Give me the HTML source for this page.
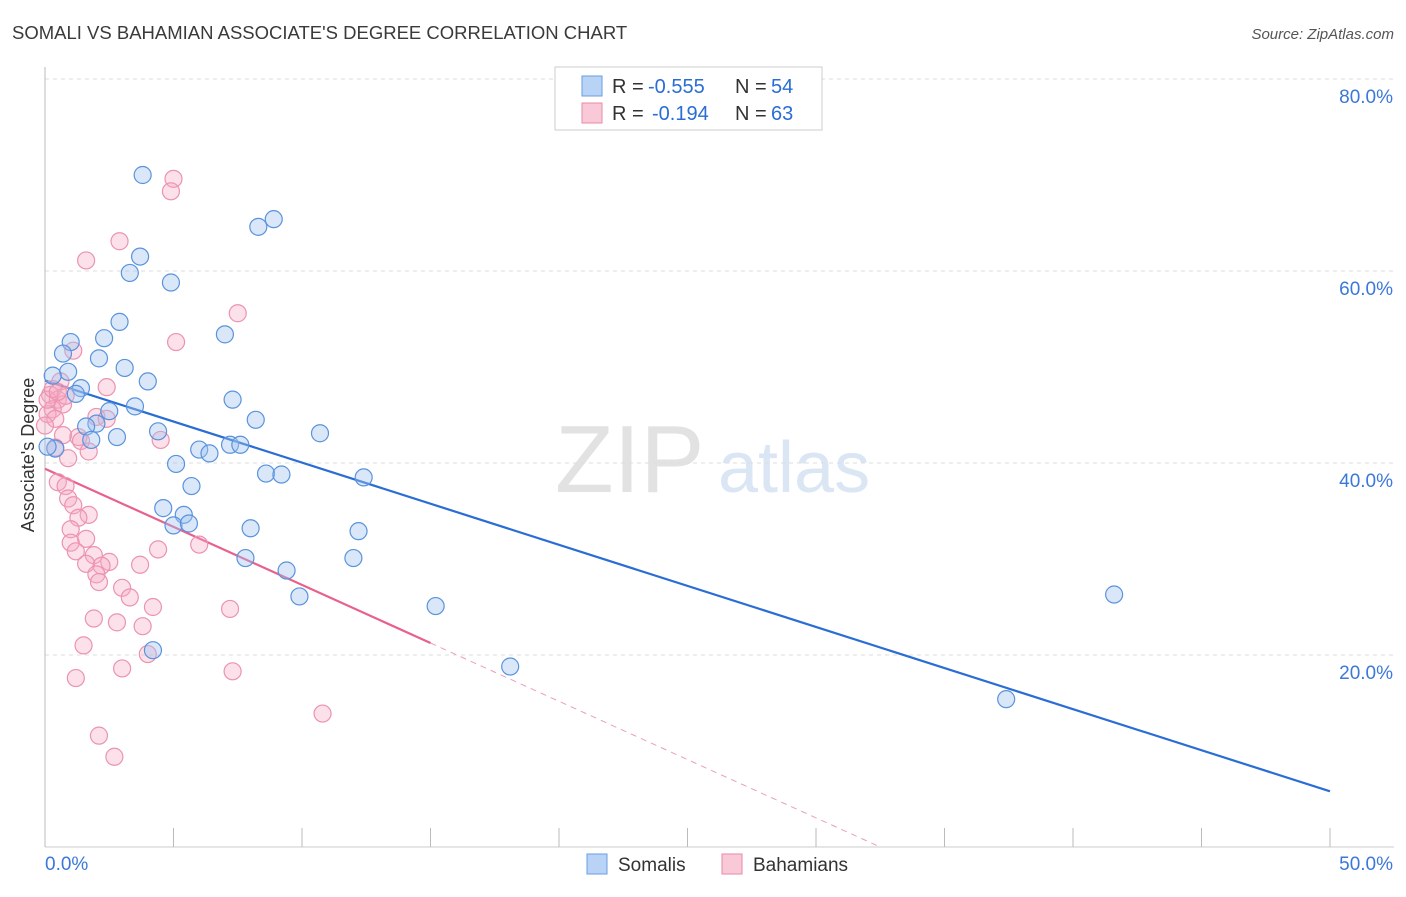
<!DOCTYPE html>
<html><head><meta charset="utf-8"><style>
body{margin:0;background:#fff;font-family:"Liberation Sans",sans-serif;}
svg text{font-family:"Liberation Sans",sans-serif;}
</style></head><body>
<svg id="chart" width="1406" height="892" xmlns="http://www.w3.org/2000/svg">
<text x="12" y="39" font-size="18.5" fill="#3a3a3a">SOMALI VS BAHAMIAN ASSOCIATE'S DEGREE CORRELATION CHART</text>
<text x="1394" y="39" font-size="15" fill="#555" font-style="italic" text-anchor="end">Source: ZipAtlas.com</text>
<g>
<text x="555" y="492" font-size="96" font-family="Liberation Serif" fill="#e2e2e2">ZIP</text>
<text x="718" y="492" font-size="72" fill="#dbe6f5">atlas</text>
</g>
<g id="grid"></g>
<g id="axes"></g>
<text transform="translate(34,455) rotate(-90)" font-size="18" fill="#333" text-anchor="middle">Associate's Degree</text>
<g id="lines"></g>
<g id="points"></g>
<g>
<rect x="555" y="67" width="267" height="63" fill="#fff" stroke="#ccc"/>
<rect x="582" y="76" width="20" height="20" fill="#b8d3f5" stroke="#6a9ee0"/>
<rect x="582" y="103" width="20" height="20" fill="#f9c9d8" stroke="#e88aa8"/>
<text x="612" y="93" font-size="20" fill="#333">R =</text>
<text x="648" y="93" font-size="20" fill="#2a6dd4">-0.555</text>
<text x="735" y="93" font-size="20" fill="#333">N =</text>
<text x="771" y="93" font-size="20" fill="#2a6dd4">54</text>
<text x="612" y="120" font-size="20" fill="#333">R =</text>
<text x="652" y="120" font-size="20" fill="#2a6dd4">-0.194</text>
<text x="735" y="120" font-size="20" fill="#333">N =</text>
<text x="771" y="120" font-size="20" fill="#2a6dd4">63</text>
</g>
<g>
<rect x="587" y="854" width="20" height="20" fill="#b8d3f5" stroke="#6a9ee0"/>
<text x="618" y="871" font-size="19" fill="#333">Somalis</text>
<rect x="722" y="854" width="20" height="20" fill="#f9c9d8" stroke="#e88aa8"/>
<text x="753" y="871" font-size="19" fill="#333">Bahamians</text>
</g>
</svg>
<script>
const yTicks=[20,40,60,80];
const yTickLabels=["20.0%","40.0%","60.0%","80.0%"];
const xTickLabels=["0.0%","50.0%"];
const somaliX=[3.8,8.9,8.3,3.7,3.3,4.9,2.9,7.0,1.0,2.3,0.7,2.1,3.1,0.9,0.3,4.0,1.4,1.2,7.3,3.5,2.5,2.0,1.6,8.2,10.7,4.4,2.8,1.8,7.2,7.6,6.0,6.4,5.1,8.6,9.2,12.4,5.7,4.6,5.4,5.0,5.6,8.0,12.2,7.8,12.0,9.4,9.9,15.2,41.6,4.2,18.1,37.4,0.4,0.1];
const somaliY=[70.0,65.4,64.6,61.5,59.8,58.8,54.7,53.4,52.6,53.0,51.4,50.9,49.9,49.5,49.1,48.5,47.8,47.2,46.6,45.9,45.4,44.1,43.8,44.5,43.1,43.3,42.7,42.4,41.9,41.9,41.4,41.0,39.9,38.9,38.8,38.5,37.6,35.3,34.6,33.5,33.7,33.2,32.9,30.1,30.1,28.8,26.1,25.1,26.3,20.5,18.8,15.4,41.5,41.7];
const bahX=[5.0,4.9,2.9,1.6,7.5,5.1,1.1,0.6,2.4,0.2,0.5,0.7,0.3,0.1,0.4,2.0,2.4,0.7,1.3,4.5,1.4,0.4,1.7,0.9,0.5,0.8,0.9,1.1,1.7,1.3,1.0,1.6,1.0,1.2,1.9,1.6,2.5,2.2,3.7,4.4,6.0,2.0,2.1,3.0,3.3,4.2,7.2,1.9,2.8,3.8,1.5,4.0,3.0,7.3,1.2,10.8,2.1,2.7,0.0,0.1,0.3,0.8,0.5];
const bahY=[69.6,68.3,63.1,61.1,55.6,52.6,51.7,48.5,47.9,47.1,46.6,46.1,45.6,45.1,44.6,44.8,44.6,42.9,42.7,42.4,42.3,41.6,41.2,40.5,38.0,37.6,36.3,35.6,34.6,34.3,33.1,32.1,31.7,30.8,30.4,29.5,29.7,29.3,29.4,31.0,31.5,28.4,27.6,27.0,26.0,25.0,24.8,23.8,23.4,23.0,21.0,20.1,18.6,18.3,17.6,13.9,11.6,9.4,43.9,46.6,47.7,47.0,47.4];
const somaliLine=[[0,48.6],[50,5.8]];
const bahLineSolid=[[0,39.4],[15,21.25]];
const bahLineDash=[[15,21.25],[32.5,0]];
const X0=45,X1=1330,Y0=847,YPX=9.6;
const sx=v=>X0+(X1-X0)*v/50, sy=v=>Y0-v*YPX;
const NS="http://www.w3.org/2000/svg";
function mk(tag,attrs,parent){const e=document.createElementNS(NS,tag);for(const k in attrs)e.setAttribute(k,attrs[k]);document.getElementById(parent).appendChild(e);return e;}
yTicks.forEach((t,i)=>{
 const g=mk('line',{x1:X0,x2:1394,y1:sy(t),y2:sy(t),stroke:'#ddd','stroke-dasharray':'4,4'},'grid');
 
 
 const l=mk('text',{x:1393,y:sy(t)+24,'font-size':19,fill:'#3b78d8','text-anchor':'end'},'grid');
 l.textContent=yTickLabels[i];
 
 
});
const ax=mk('line',{x1:X0,x2:X0,y1:67,y2:Y0,stroke:'#bbb'},'axes');


const bx=mk('line',{x1:X0,x2:1394,y1:Y0,y2:Y0,stroke:'#ccc'},'axes');


for(let i=0;i<=10;i++){
 const t=mk('line',{x1:sx(i*5),x2:sx(i*5),y1:828,y2:Y0,stroke:'#bbb'},'axes');
 
 
}
[[0,'start'],[50,'end']].forEach((p,i)=>{
 const l=mk('text',{x:sx(p[0])+(i?63:0),y:870,'font-size':19,fill:'#3b78d8','text-anchor':p[1]},'axes');
 l.textContent=xTickLabels[i];
 
 
});
function line(pts,color,w,dash,name){
 const a={x1:sx(pts[0][0]),y1:sy(pts[0][1]),x2:sx(pts[1][0]),y2:sy(pts[1][1]),stroke:color,'stroke-width':w};
 if(dash)a['stroke-dasharray']=dash;
 const e=mk('line',a,'lines');
 
 
}
line(somaliLine,'#2a6dd4',2.2,null,'somali-trend-line');
line(bahLineSolid,'#e8608c',2.2,null,'bahamian-trend-line');
line(bahLineDash,'#e8a0b8',1,'6,5','bahamian-trend-extension');
bahX.forEach((v,i)=>{
 const c=mk('circle',{cx:sx(v),cy:sy(bahY[i]),r:8.5,fill:'rgba(246,170,195,0.35)',stroke:'#eb93b1','stroke-width':1.2},'points');
 
 
});
somaliX.forEach((v,i)=>{
 const c=mk('circle',{cx:sx(v),cy:sy(somaliY[i]),r:8.5,fill:'rgba(160,195,240,0.4)',stroke:'#5a93dd','stroke-width':1.2},'points');
 
 
});
</script>
</body></html>
